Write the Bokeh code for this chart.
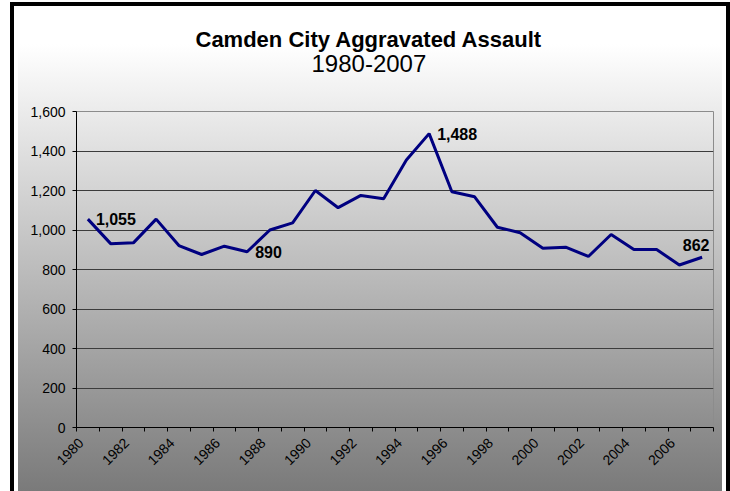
import numpy as np
from bokeh.plotting import figure
from bokeh.models import Range1d, FixedTicker, NumeralTickFormatter, Title, ColumnDataSource
from bokeh.core.properties import value
from bokeh.embed import file_html
from bokeh.resources import INLINE

# ---- data ----
years = list(range(1980, 2008))
assaults = [1055, 931, 935, 1055, 921, 876, 918, 890, 1000, 1036,
            1200, 1113, 1175, 1158, 1354, 1488, 1194, 1168, 1014, 986,
            908, 913, 866, 977, 901, 901, 823, 862]
y_ticks = [0, 200, 400, 600, 800, 1000, 1200, 1400, 1600]
x_label_years = years[::2]
labelled_years_right = [1980, 1987, 1995]
labelled_years_above = [2007]
title_text = "Camden City Aggravated Assault"
subtitle_text = "1980-2007"

FONT = "Liberation Sans"
LABEL_SHIFT = 0.3  # rotated year labels sit slightly left of the category centre

p = figure(width=730, height=491, output_backend="svg", toolbar_location=None, title=None,
           x_range=Range1d(years[0] - 0.5, years[-1] + 0.5), y_range=Range1d(y_ticks[0], y_ticks[-1]),
           min_border_left=76, min_border_right=17, min_border_top=111, min_border_bottom=64)
p.border_fill_alpha = 0
p.background_fill_alpha = 0
p.outline_line_color = "#8c8c8c"
p.outline_line_width = 1
p.styles = {
    "background": "linear-gradient(to bottom, #ffffff 0%, #ffffff 9%, #7a7a7a 100%)",
    "box-shadow": ("inset 10px 0 0 0 #fff, inset 0 2px 0 0 #fff, "
                   "inset 14px 0 0 0 #000, inset -4px 0 0 0 #000, inset 0 6px 0 0 #000, "
                   "inset 18px 0 0 0 #fff, inset -8px 0 0 0 #fff, inset 0 9px 0 0 #fff"),
}

# grids
p.xgrid.visible = False
p.ygrid.ticker = FixedTicker(ticks=y_ticks)
p.ygrid.grid_line_color = "#3c3c3c"
p.ygrid.grid_line_width = 1

# y axis
p.yaxis.ticker = FixedTicker(ticks=y_ticks)
p.yaxis.formatter = NumeralTickFormatter(format="0,0")
p.yaxis.major_tick_in = 0
p.yaxis.major_tick_out = 4
p.yaxis.minor_tick_line_color = None
p.yaxis.axis_line_color = "#000000"
p.yaxis.major_tick_line_color = "#000000"
p.yaxis.major_label_text_font = FONT
p.yaxis.major_label_text_font_size = "14px"
p.yaxis.major_label_text_color = "#000000"
p.yaxis.major_label_standoff = 7

# x axis
p.xaxis.ticker = FixedTicker(ticks=[y - LABEL_SHIFT for y in x_label_years],
                             minor_ticks=[y - 0.5 for y in years] + [years[-1] + 0.5])
p.xaxis.formatter = NumeralTickFormatter(format="0")
p.xaxis.major_tick_in = 0
p.xaxis.major_tick_out = 0
p.xaxis.minor_tick_in = 0
p.xaxis.minor_tick_out = 4
p.xaxis.minor_tick_line_color = "#000000"
p.xaxis.axis_line_color = "#000000"
p.xaxis.major_label_orientation = np.pi / 4
p.xaxis.major_label_text_font = FONT
p.xaxis.major_label_text_font_size = "14px"
p.xaxis.major_label_text_color = "#000000"
p.xaxis.major_label_standoff = 9

# line
p.line(years, assaults, line_color="#000080", line_width=3)

# data labels
lookup = dict(zip(years, assaults))
src_r = ColumnDataSource(dict(x=labelled_years_right,
                              y=[lookup[y] for y in labelled_years_right],
                              t=[f"{lookup[y]:,}" for y in labelled_years_right]))
p.text(x="x", y="y", text="t", source=src_r, text_font=value(FONT), text_font_style="bold",
       text_font_size="16px", text_align="left", text_baseline="middle", x_offset=8,
       text_color="#000000")
src_a = ColumnDataSource(dict(x=labelled_years_above,
                              y=[lookup[y] for y in labelled_years_above],
                              t=[f"{lookup[y]:,}" for y in labelled_years_above]))
p.text(x="x", y="y", text="t", source=src_a, text_font=value(FONT), text_font_style="bold",
       text_font_size="16px", text_align="center", text_baseline="middle", x_offset=-6, y_offset=-12,
       text_color="#000000")

# titles (first added sits nearest the frame): subtitle, then title
p.add_layout(Title(text=subtitle_text, align="left", offset=235, text_font=FONT, text_font_size="24px",
                   text_font_style="normal", text_color="#000000", standoff=80), "above")
p.add_layout(Title(text=title_text, align="left", offset=119, text_font=FONT, text_font_size="22px",
                   text_font_style="bold", text_color="#000000", standoff=-78), "above")

open("out.html", "w").write(file_html(p, INLINE))
